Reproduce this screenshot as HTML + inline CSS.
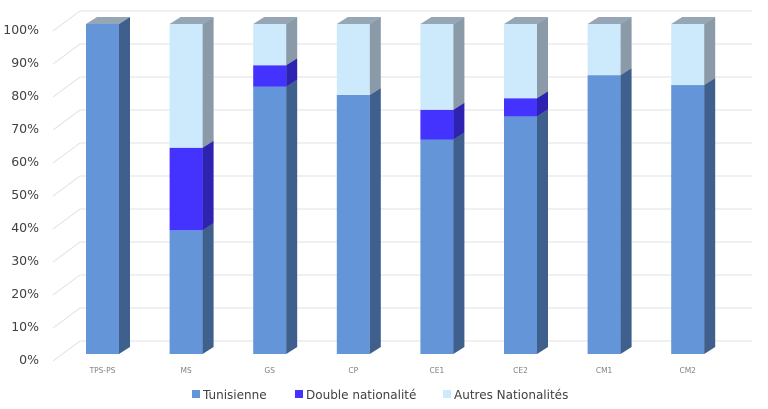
<!DOCTYPE html>
<html><head><meta charset="utf-8"><style>
body{margin:0;background:#fff;font-family:"DejaVu Sans","Liberation Sans",sans-serif}
svg{display:block}
</style></head><body>
<svg id="c" width="768" height="409" font-family="DejaVu Sans, Liberation Sans, sans-serif"></svg>
<script>
const categories=["TPS-PS","MS","GS","CP","CE1","CE2","CM1","CM2"];
const tunisienne=[100,37.5,81,78.5,65,72,84.5,81.5];
const doubleNat=[0,25,6.5,0,9,5.5,0,0];
const autres=[0,37.5,12.5,21.5,26,22.5,15.5,18.5];
const yTicks=[0,10,20,30,40,50,60,70,80,90,100];
const seriesNames=["Tunisienne","Double nationalité","Autres Nationalités"];

const NS="http://www.w3.org/2000/svg";
const svgRoot=document.getElementById('c');
function el(t,a){const e=document.createElementNS(NS,t);for(const k in a)e.setAttribute(k,a[k]);svgRoot.appendChild(e);return e;}
const y0=354,yTop=24,dx=11,dy=-7;
const yScale=v=>y0-(v/100)*(y0-yTop);
const xScale=i=>86+i*83.6;
const bw=33;
const frontColors=["#6495d8","#4433ff","#cdeafc"],sideColors=["#3f5f8c","#2e22b0","#8a9aa8"],topColor="#97a6b5";

yTicks.forEach(t=>{
  const yy=yScale(t);
  const g=el('polyline',{points:`53,${yy+7} 80,${yy-13} 752,${yy-13}`,fill:'none',stroke:'#e2e2e2','stroke-width':1});
  
  
  const tx=el('text',{x:39,y:yy+10,'text-anchor':'end','font-size':12.5,fill:'#404040'});
  tx.textContent=t+'%';
  
  
});

const series=[tunisienne,doubleNat,autres];
categories.forEach((c,i)=>{
  let base=0;const x0=xScale(i);
  series.forEach((s,k)=>{
    const v=s[i]; if(v<=0) return;
    const yb=yScale(base),yt=yScale(base+v);
    const f=el('rect',{x:x0,y:yt,width:bw,height:yb-yt,fill:frontColors[k]});
    
    
    const sd=el('polygon',{points:`${x0+bw},${yb} ${x0+bw+dx},${yb+dy} ${x0+bw+dx},${yt+dy} ${x0+bw},${yt}`,fill:sideColors[k]});
    
    
    base+=v;
  });
  const yt=yScale(base);
  const tp=el('polygon',{points:`${x0},${yt} ${x0+dx},${yt+dy} ${x0+bw+dx},${yt+dy} ${x0+bw},${yt}`,fill:topColor});
  
  
  const lb=el('text',{x:x0+bw/2,y:373,'text-anchor':'middle','font-size':7.5,fill:'#808080'});
  lb.textContent=c;
  
  
});

const lx=[192,295,443];
seriesNames.forEach((n,k)=>{
  const r=el('rect',{x:lx[k],y:390,width:8,height:8,fill:frontColors[k]});
  
  
  const t=el('text',{x:lx[k]+11,y:399,'font-size':12,fill:'#404040'});
  t.textContent=n;
  
  
});
</script>
</body></html>
